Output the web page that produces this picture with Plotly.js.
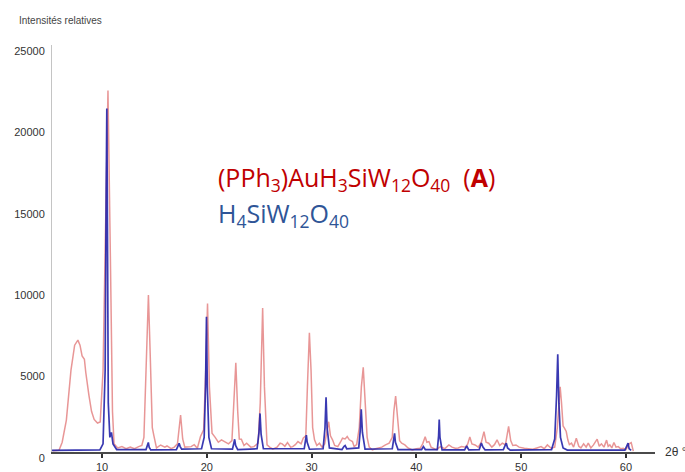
<!DOCTYPE html>
<html>
<head>
<meta charset="utf-8">
<script src="https://cdn.plot.ly/plotly-3.0.1.min.js"></script>
<style>html,body{margin:0;padding:0;background:#fff;}#chart{width:685px;height:472px;}</style>
</head>
<body>
<div id="chart"></div>
<script>
// (PPh3)AuH3SiW12O40 (A) pattern : 2theta / relative intensity
const redTheta = [5.3,5.9,6.2,6.6,7.04,7.39,7.7,7.9,8.1,8.32,8.45,8.6,8.75,9.0,9.25,9.57,9.83,10.1,10.35,10.57,10.8,11.0,11.15,
  11.5,11.9,12.3,12.7,13.1,13.5,13.8,14.0,14.2,14.43,14.6,14.8,14.95,15.2,15.6,16.0,16.2,16.6,16.9,17.2,17.5,17.7,17.9,
  18.2,18.5,18.8,19.1,19.4,19.7,19.9,20.07,20.25,20.5,20.8,21.1,21.4,21.7,22.07,22.4,22.6,22.77,22.95,23.1,23.3,23.55,23.8,
  24.2,24.5,24.9,25.1,25.33,25.5,25.75,26.0,26.3,26.7,27.0,27.2,27.45,27.7,28.0,28.2,28.45,28.7,29.0,29.2,29.45,29.6,29.79,
  29.95,30.1,30.28,30.5,30.75,31.0,31.25,31.45,31.63,31.8,32.0,32.2,32.5,32.75,32.95,33.2,33.4,33.6,33.9,34.06,34.3,34.55,
  34.75,34.93,35.1,35.3,35.5,35.8,36.1,36.4,36.7,37.05,37.4,37.7,37.85,38.02,38.2,38.4,38.6,38.9,39.2,39.6,40.0,40.36,40.6,
  40.84,41.0,41.2,41.4,41.6,41.9,42.3,42.7,43.1,43.4,43.7,44.0,44.3,44.7,44.9,45.1,45.3,45.6,45.9,46.2,46.45,46.65,46.9,
  47.2,47.45,47.7,47.95,48.2,48.5,48.8,49.0,49.2,49.5,49.8,50.3,50.7,51.1,51.5,51.9,52.2,52.5,52.86,53.2,53.45,53.6,53.72,
  53.85,54.0,54.13,54.3,54.45,54.6,54.8,55.0,55.26,55.5,55.7,55.96,56.2,56.4,56.65,56.9,57.25,57.45,57.66,57.9,58.15,58.3,
  58.46,58.65,58.85,59.05,59.26,59.5,59.74,60.0,60.3,60.5,60.7];
const redIntensity = [80,100,600,1960,5030,6560,6870,6560,5900,5700,4900,4000,3500,2500,2000,1780,1850,5000,15000,22200,12000,2500,500,
  250,330,200,300,200,330,400,900,5000,9650,6000,1500,1000,250,430,300,370,200,300,500,2270,800,300,
  330,330,450,230,950,1370,5000,9120,4000,1160,900,600,750,640,500,700,3000,5480,2500,800,790,400,540,
  300,330,540,3000,8850,4000,435,300,170,300,540,500,350,580,300,330,450,640,500,850,1000,4000,7320,
  5000,1500,750,400,540,300,500,1300,1860,1000,750,400,330,600,850,800,950,750,640,330,450,1500,
  4000,5200,3500,900,300,125,200,230,300,435,540,900,2500,3440,2000,700,540,435,250,125,200,230,500,
  940,600,640,300,230,150,330,200,435,300,230,250,330,300,500,920,500,435,300,600,1250,600,540,
  300,450,750,400,540,450,1580,700,400,435,300,230,200,170,250,330,200,435,230,300,1500,3000,4000,
  3000,1600,1470,1260,750,450,540,300,850,350,250,500,300,540,250,435,790,350,500,300,730,350,
  435,250,580,300,330,200,230,150,500,580,50];

// H4SiW12O40 pattern
const blueTheta = [5.23,9.8,10.1,10.3,10.4,10.46,10.52,10.6,10.75,10.9,11.05,11.4,14.2,14.35,14.42,14.5,14.65,17.1,17.3,17.36,17.45,17.6,
  19.5,19.75,19.88,19.97,20.05,20.2,20.45,22.45,22.6,22.66,22.75,22.95,24.8,24.98,25.08,25.18,25.4,29.3,29.44,29.5,29.58,29.8,
  31.1,31.28,31.38,31.48,31.7,32.9,33.1,33.2,33.35,34.5,34.64,34.74,34.85,35.1,37.7,37.85,37.92,38.0,38.25,40.5,40.67,40.85,
  42.0,42.12,42.18,42.25,42.45,44.6,44.8,45.0,46.0,46.2,46.35,46.55,48.3,48.5,48.58,48.7,48.95,52.9,53.2,53.38,53.49,53.6,
  53.75,54.0,54.4,59.9,60.1,60.2,60.3,60.5];
const blueIntensity = [100,130,500,5000,16000,21100,14000,3000,900,1200,500,150,150,500,590,300,130,150,450,530,350,180,
  200,900,4000,8300,4000,900,200,180,600,780,400,150,200,1200,2370,1100,200,200,800,1040,600,170,
  200,1500,3360,1500,250,150,350,400,200,250,1300,2620,1200,180,200,800,1150,600,150,150,330,150,
  150,1000,1990,900,130,130,370,130,150,550,300,130,150,450,540,250,120,150,800,3500,6000,3000,
  900,250,120,120,450,540,200,100];

const seriesNames = ['(PPh<sub>3</sub>)AuH<sub>3</sub>SiW<sub>12</sub>O<sub>40</sub>&nbsp;&nbsp;(<b>A</b>)', 'H<sub>4</sub>SiW<sub>12</sub>O<sub>40</sub>'];
const yTicks = [0, 5000, 10000, 15000, 20000, 25000];
const xTicks = [10, 20, 30, 40, 50, 60];

const traces = [
  {x: redTheta, y: redIntensity, type: 'scatter', mode: 'lines', name: 'A',
   line: {color: 'rgba(222,105,105,0.7)', width: 1.5}, hoverinfo: 'skip'},
  {x: blueTheta, y: blueIntensity, type: 'scatter', mode: 'lines', name: 'H4',
   line: {color: 'rgba(35,35,170,0.9)', width: 1.7}, hoverinfo: 'skip'}
];

const layout = {
  width: 685, height: 472,
  margin: {l: 52, r: 30, t: 45, b: 20, pad: 0},
  paper_bgcolor: '#fff', plot_bgcolor: '#fff',
  showlegend: false,
  font: {family: 'Liberation Sans, Arial, sans-serif', size: 11, color: '#333'},
  xaxis: {
    range: [5.229, 62.77], tickvals: xTicks, ticktext: xTicks.map(String),
    showgrid: false, zeroline: false, showline: true, linecolor: '#4a4a4a', linewidth: 2,
    ticks: 'outside', ticklen: 4, tickwidth: 2, tickcolor: '#333',
    tickfont: {size: 11, color: '#333'}
  },
  yaxis: {
    range: [0, 25000], tickvals: yTicks, ticktext: yTicks.map(String),
    showgrid: false, zeroline: false, showline: true, linecolor: '#c4c4c4', linewidth: 1,
    ticks: '', ticklabelshift: 6, ticklabelstandoff: 4,
    tickfont: {size: 11, color: '#333'}
  },
  annotations: [
    {text: 'Intensités relatives', xref: 'paper', yref: 'paper', x: -0.058, y: 1.061,
     xanchor: 'left', yanchor: 'middle', showarrow: false,
     font: {family: 'Liberation Sans, Arial, sans-serif', size: 10, color: '#444'}},
    {text: '2θ °', xref: 'paper', yref: 'paper', x: 1.013, y: 0,
     xanchor: 'left', yanchor: 'middle', showarrow: false,
     font: {family: 'Liberation Sans, Arial, sans-serif', size: 12, color: '#333'}},
    {text: seriesNames[0], xref: 'paper', yref: 'paper', x: 0.272, y: 0.672,
     xanchor: 'left', yanchor: 'middle', showarrow: false,
     font: {family: 'Open Sans, Lato, sans-serif', size: 25, color: '#c00000'}},
    {text: seriesNames[1], xref: 'paper', yref: 'paper', x: 0.272, y: 0.584,
     xanchor: 'left', yanchor: 'middle', showarrow: false,
     font: {family: 'Open Sans, Lato, sans-serif', size: 25, color: '#2f5597'}}
  ]
};

Plotly.newPlot('chart', traces, layout, {staticPlot: true, displayModeBar: false});
</script>
</body>
</html>
